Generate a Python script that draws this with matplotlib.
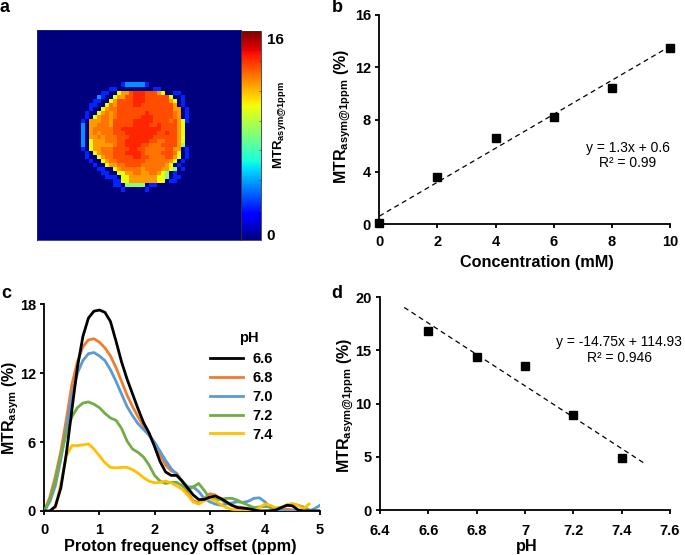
import numpy as np
import matplotlib
matplotlib.use('Agg')
from matplotlib import pyplot as plt

plt.rcParams['font.family'] = ['Liberation Sans', 'DejaVu Sans']
plt.rcParams['mathtext.fontset'] = 'custom'
plt.rcParams['mathtext.rm'] = 'Liberation Sans:bold'
plt.rcParams['mathtext.bf'] = 'Liberation Sans:bold'
plt.rcParams['mathtext.default'] = 'rm'

# panel a, phantom map, one letter per cell
map_levels = {'.': 0, 'b': 2.6, 'c': 4.3, 'g': 8.2, 'y': 10.2, 'o': 11.9, 'O': 12.6, 'r': 13.2, 'R': 13.9}
map_rows = [
    "..........bcccccb..........",
    ".......bb.........bb.......",
    ".....bb..yoorRRRrrroy..bb..",
    "....cb..yoorrRRRrrrrrry..b.",
    "...bb..yorrrrRRRrrrrrroy.b.",
    "..bb..yOorrrrRRrrrrrrrro.b.",
    "..b..yoOOrrrrrrrrrrrrrroo.b",
    ".b..yoOoOrrrrrrrRrrrrrrOo.b",
    ".b.yoOOoOrrrrrrRRRrrrrrOo.b",
    "b.oooOOorrrrrRRRRRrrrrOroyb",
    "c.ooOOOorrrrrRRRRrrRrrrroy.",
    "c.oOOOOOrrRRRRRRRRRRrrrroy.",
    "c.oOoOOOrrrRRRRRRRRrrRrroy.",
    "c.ooOoOOOrrrRRRRRRrrrrrroy.",
    "c.yoooOOOrrRRRRRRrrOOrrroy.",
    "c.yoooooOrrRRRRrrOOOrrrrog.",
    "b.yooOOOrrrrRRrrOOOOOrroo.b",
    ".b.yoOOOrrrRRRRrOOOOrrrOy.b",
    ".b..yoOOrrrrrRRrrOOOOrroy.b",
    "..b..yoOOrrrrrrrOOOOOOoy.b.",
    "...b..yooOOrrrrOOOOOOoy.b..",
    "....bb..yoOOOOOoOOOOooyg.b.",
    ".....bb..yyooOOooOOoyg.b...",
    "......bbb.yyoooooooyyg.bb..",
    "........bbyyoooooooyy.bb...",
    "........bb.ggggg.bb........",
    "..........b.....b..........",
]
map_shape = (52, 51)
map_offset = (13, 11)

# panel b
conc = [0, 2, 4, 6, 8, 10]
conc_mtr = [0.1, 3.6, 6.6, 8.2, 10.4, 13.5]
conc_fit_x = [0, 10]
conc_fit_y = [0.6, 13.6]

# panel c
offsets = [round(i * 0.1, 1) for i in range(51)]
ph_labels = ['6.6', '6.8', '7.0', '7.2', '7.4']
mtr_66 = [0, 0, 0.4, 2.0, 5.0, 8.8, 12.5, 15.2, 16.8, 17.4, 17.5, 17.3, 16.5, 14.8, 13.0, 11.5, 10.2,
          8.9, 7.7, 6.8, 5.6, 4.3, 3.4, 3.1, 3.1, 2.6, 2.0, 1.4, 1.0, 1.0, 1.2, 1.3, 1.1, 0.8, 0.5,
          0.3, 0.25, 0.2, 0.1, 0, 0, 0, 0.1, 0.3, 0.5, 0.45, 0.1, 0, 0, 0, 0]
mtr_68 = [0, 1.2, 3.0, 5.2, 8.0, 11.0, 13.0, 14.3, 14.9, 15.0, 14.7, 14.2, 13.5, 12.5, 11.3, 10.1, 9.1,
          8.2, 7.4, 6.6, 5.9, 4.9, 4.0, 3.5, 3.3, 2.6, 1.6, 0.9, 0.7, 1.1, 1.5, 1.4, 1.0, 0.7, 0.5,
          0.35, 0.3, 0.2, 0.1, 0, 0, 0.05, 0.1, 0.1, 0.15, 0.1, 0, 0, 0, 0, 0]
mtr_70 = [0, 0.8, 2.2, 4.5, 7.2, 10.0, 12.0, 13.1, 13.7, 13.8, 13.5, 13.1, 12.3, 11.3, 10.2, 9.1, 8.3,
          7.6, 7.1, 6.6, 6.0, 5.2, 4.4, 3.7, 3.2, 2.6, 2.1, 2.1, 1.7, 1.1, 0.8, 0.6, 0.5, 0.6, 0.7,
          0.8, 0.75, 0.85, 1.1, 1.15, 0.8, 0.3, 0.1, 0.05, 0, 0, 0, 0, 0, 0.2, 0.5]
mtr_72 = [0, 1.0, 2.6, 4.8, 6.8, 8.2, 9.0, 9.4, 9.5, 9.3, 9.0, 8.5, 8.1, 7.9, 7.2, 6.1, 5.4,
          5.1, 4.7, 4.0, 3.1, 2.6, 2.4, 2.5, 2.5, 2.2, 1.8, 2.1, 2.4, 1.8, 1.1, 1.0, 1.0, 1.1, 1.1,
          0.95, 0.7, 0.5, 0.3, 0.35, 0.4, 0.35, 0.25, 0.3, 0.5, 0.6, 0.5, 0.35, 0.1]
# this one starts at 0.2 ppm and stops at 4.8
mtr_74 = [0.3, 2.4, 4.8, 5.7, 5.7, 5.75, 5.85, 5.4, 4.8, 4.2, 3.8, 3.75, 3.8, 3.8, 3.6,
          3.3, 2.9, 2.6, 2.45, 2.5, 2.6, 2.45, 2.2, 1.9, 1.4, 0.8, 0.6, 0.9, 1.1, 0.9, 0.55, 0.3, 0.15,
          0.1, 0.05, 0, 0, 0.3, 0.6, 0.5, 0.25, 0.3, 0.55, 0.65, 0.5, 0.2, 0.6]

# panel d
ph = [6.6, 6.8, 7.0, 7.2, 7.4]
ph_mtr = [16.8, 14.4, 13.5, 8.9, 4.85]
ph_fit_x = [6.5, 7.5]
ph_fit_y = [19.05, 4.3]

W, H = 685, 555
fig = plt.figure(figsize=(W / 100, H / 100), dpi=100)


def box(left, top, right, bottom):
    return fig.add_axes([left / W, 1 - bottom / H, (right - left) / W, (bottom - top) / H])


def label(x, y, s, **kw):
    kw.setdefault('ha', 'center')
    kw.setdefault('va', 'center')
    fig.text(x / W, 1 - y / H, s, **kw)


def style(ax, xpad=5):
    ax.spines['top'].set_visible(False)
    ax.spines['right'].set_visible(False)
    ax.spines['left'].set_linewidth(1.3)
    ax.spines['bottom'].set_linewidth(1.3)
    ax.tick_params(length=3, width=1.3, direction='out', pad=3, labelsize=10.5)
    ax.tick_params(axis='x', pad=xpad)
    for t in ax.get_xticklabels() + ax.get_yticklabels():
        t.set_fontweight('bold')


# a
grid = np.zeros(map_shape)
for i, row in enumerate(map_rows):
    for j, ch in enumerate(row):
        grid[map_offset[0] + i, map_offset[1] + j] = map_levels[ch]

ax_a = box(37, 30, 241, 240)
im = ax_a.imshow(grid, cmap='jet', vmin=0, vmax=16, aspect='auto', interpolation='nearest')
ax_a.set_xticks([])
ax_a.set_yticks([])
for s in ax_a.spines.values():
    s.set_color('#1a2a80')
    s.set_linewidth(0.6)

cax = box(241, 31, 261, 240)
cb = fig.colorbar(im, cax=cax)
cb.outline.set_linewidth(0.6)
cb.outline.set_edgecolor('#333333')
cb.set_ticks([0.45, 15.45], labels=['0', '16'])
cax.tick_params(axis='y', which='major', length=0, pad=4, labelsize=11)
for t in cax.get_yticklabels():
    t.set_fontweight('bold')
cb.ax.yaxis.set_ticks([16 * k / 7 for k in range(1, 7)], minor=True)
cax.tick_params(axis='y', which='minor', length=1.5, width=0.5, direction='in', color='#444444')
label(280, 125, r'MTR$_{asym@1ppm}$', rotation=90, fontweight='bold', fontsize=9.5)

# b
ax_b = box(379.3, 15, 670, 224)
ax_b.plot(conc_fit_x, conc_fit_y, 'k--', lw=0.9, dashes=(4, 3))
ax_b.plot(conc, conc_mtr, 's', color='k', ms=6.2, clip_on=False, zorder=5)
ax_b.set_xlim(0, 10)
ax_b.set_ylim(0, 16)
ax_b.set_xticks([0, 2, 4, 6, 8, 10])
ax_b.set_yticks([0, 4, 8, 12, 16])
style(ax_b, xpad=5)
ax_b.text(8.55, 5.8, 'y = 1.3x + 0.6', ha='center', va='center', fontsize=10)
ax_b.text(8.55, 4.67, 'R² = 0.99', ha='center', va='center', fontsize=10)
label(537, 262, 'Concentration (mM)', fontweight='bold', fontsize=11.7)
label(343, 116, r'MTR$_{asym@1ppm}$ (%)', rotation=90, fontweight='bold', fontsize=11.5)

# c
ax_c = box(44.3, 304.3, 320, 511)
ax_c.plot(offsets, mtr_68, color='#ED7D31', lw=2, label=ph_labels[1], zorder=2)
ax_c.plot(offsets, mtr_70, color='#5B9BD5', lw=2, label=ph_labels[2], zorder=3)
ax_c.plot(offsets[:len(mtr_72)], mtr_72, color='#70AD47', lw=2, label=ph_labels[3], zorder=4)
ax_c.plot(offsets[2:2 + len(mtr_74)], mtr_74, color='#FFC000', lw=2, label=ph_labels[4], zorder=5)
ax_c.plot(offsets, mtr_66, color='k', lw=2, label=ph_labels[0], zorder=6)
ax_c.set_xlim(0, 5)
ax_c.set_ylim(0, 18)
ax_c.set_xticks([0, 1, 2, 3, 4, 5])
ax_c.set_yticks([0, 6, 12, 18])
style(ax_c, xpad=6)
handles, names = ax_c.get_legend_handles_labels()
order = [4, 0, 1, 2, 3]
leg = ax_c.legend([handles[i] for i in order], [names[i] for i in order], frameon=False,
                  loc='upper left', bbox_to_anchor=(0.6, 0.768), borderaxespad=0, borderpad=0,
                  handlelength=2.3, handletextpad=0.6, labelspacing=0.33,
                  prop={'weight': 'bold', 'size': 10.5})
label(249, 338, 'pH', fontweight='bold', fontsize=10.5)
label(180, 547, 'Proton frequency offset (ppm)', fontweight='bold', fontsize=11.7)
label(10.5, 408, r'MTR$_{asym}$ (%)', rotation=90, fontweight='bold', fontsize=11.5)

# d
ax_d = box(380, 297.3, 670, 510)
ax_d.plot(ph_fit_x, ph_fit_y, 'k--', lw=0.9, dashes=(4, 3))
ax_d.plot(ph, ph_mtr, 's', color='k', ms=6.2, clip_on=False, zorder=5)
ax_d.set_xlim(6.4, 7.6)
ax_d.set_ylim(0, 20)
ax_d.set_xticks([6.4, 6.6, 6.8, 7.0, 7.2, 7.4, 7.6], ['6.4', '6.6', '6.8', '7', '7.2', '7.4', '7.6'])
ax_d.set_yticks([0, 5, 10, 15, 20])
style(ax_d, xpad=7)
ax_d.text(7.39, 15.8, 'y = -14.75x + 114.93', ha='center', va='center', fontsize=10)
ax_d.text(7.39, 14.3, 'R² = 0.946', ha='center', va='center', fontsize=10)
label(527, 546, 'pH', fontweight='bold', fontsize=11.7)
label(346, 405, r'MTR$_{asym@1ppm}$ (%)', rotation=90, fontweight='bold', fontsize=11.5)

# panel letters
label(5, 8, 'a', fontweight='bold', fontsize=13)
label(337, 8, 'b', fontweight='bold', fontsize=13)
label(6, 294, 'c', fontweight='bold', fontsize=13)
label(337, 294, 'd', fontweight='bold', fontsize=13)

fig.savefig('out.png', dpi=100)
